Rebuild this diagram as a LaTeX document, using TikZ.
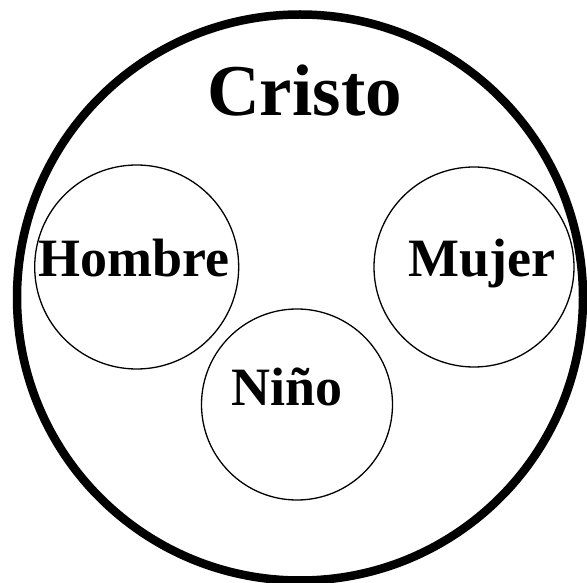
\documentclass[tikz,border=0pt]{standalone}
\usepackage{fontspec}
\setmainfont{Liberation Serif}
\tikzset{
    ring/.style={draw, circle, line width=1.3pt, inner sep=0pt},
    bigword/.style={anchor=base, inner sep=0pt, font=\bfseries\fontsize{73}{78}\selectfont},
    word/.style={anchor=base, inner sep=0pt, font=\bfseries\fontsize{54}{58}\selectfont}
}
\begin{document}
\begin{tikzpicture}[x=1pt, y=1pt]
            \useasboundingbox ( 0, 0 ) rectangle ( 587, 582 );

            % большой круг
            \node [ring, line width=8.5pt, minimum size=566pt] (cristo) at ( 300, 284.5 ) {};
            \node [bigword] (cristolabel) at ( 304.5, 466 ) {Cristo};

            % малые круги
            \node [ring, minimum size=204pt] (hombre) at ( 136.7, 315 ) {};
            \node [ring, minimum size=200pt] (mujer) at ( 474, 315 ) {};
            \node [ring, minimum size=191pt] (nino) at ( 297, 177.5 ) {};

            % подписи
            \node [word] (hombrelabel) at ( 133.5, 305 ) {Hombre};
            \node [word] (mujerlabel) at ( 482, 305 ) {Mujer};
            \node [word] (ninolabel) at ( 287, 176 ) {Niño};
        \end{tikzpicture}
\end{document}
